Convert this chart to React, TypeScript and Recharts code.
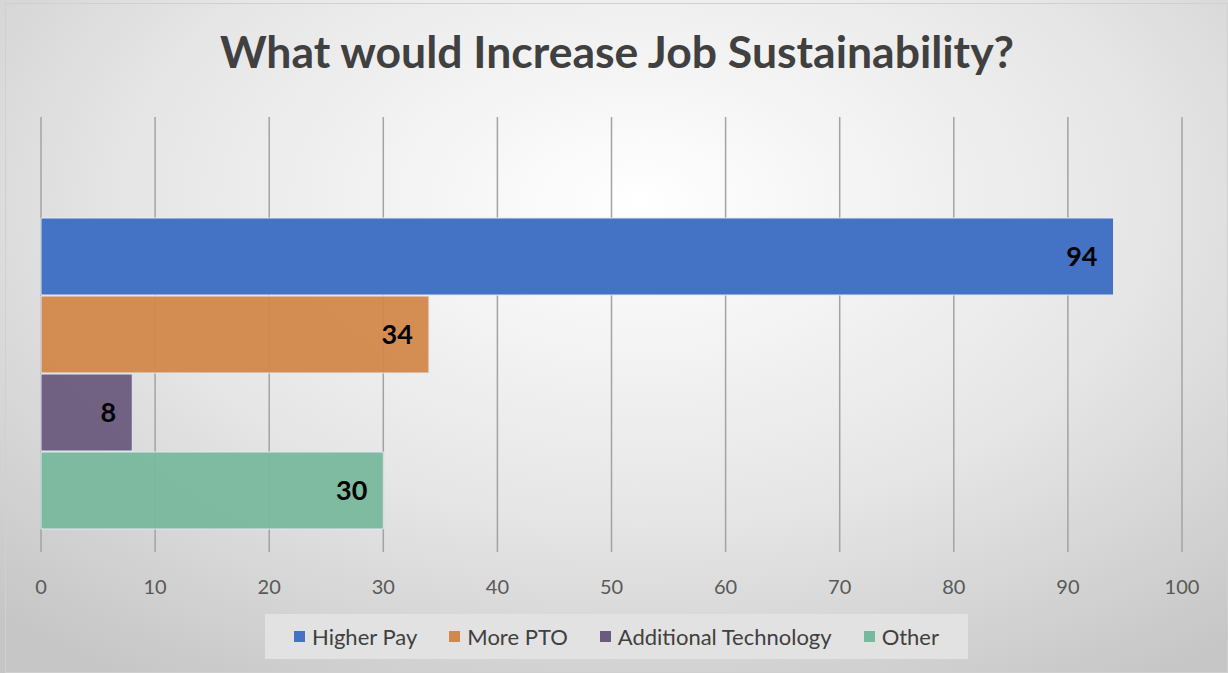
import { Bar, BarChart, CartesianGrid, LabelList, XAxis, YAxis } from "recharts";

const seriesNames = ["Higher Pay", "More PTO", "Additional Technology", "Other"];
const seriesKeys = ["higherPay", "morePto", "additionalTech", "other"];
const seriesValues = [94, 34, 8, 30];
const seriesColors = ["#4472c4", "#d2884a", "#6a5b7e", "#78b89c"];
const xTicks = [0, 10, 20, 30, 40, 50, 60, 70, 80, 90, 100];

const row: Record<string, number | string> = { name: "" };
seriesKeys.forEach((k, i) => {
  row[k] = seriesValues[i];
});
const data = [row];

const font = "Lato, 'Liberation Sans', sans-serif";

export default function App() {
  return (
    <div
      style={{
        position: "absolute",
        left: 0,
        top: 0,
        width: 1228,
        height: 673,
        background: "radial-gradient(ellipse 75% 85% at 52% 30%, #ffffff 0%, #e6e6e6 55%, #c6c6c6 100%)",
        fontFamily: font,
        overflow: "hidden",
      }}
    >
      <div
        style={{
          position: "absolute",
          left: 5,
          top: 3,
          right: 0,
          bottom: 0,
          border: "1px solid #d0d0d0",
          boxSizing: "border-box",
        }}
      />
      <div
        style={{
          position: "absolute",
          left: 0,
          width: 1234,
          top: 21,
          textAlign: "center",
          fontSize: 44.5,
          fontWeight: 700,
          color: "#404040",
          lineHeight: "60px",
        }}
      >
        What would Increase Job Sustainability?
      </div>
      <div style={{ position: "absolute", left: 0, top: 0 }}>
        <BarChart
          width={1228}
          height={673}
          data={data}
          layout="vertical"
          margin={{ top: 117, right: 46, bottom: 91, left: 41 }}
          barCategoryGap={0}
          barGap={1}
        >
          <CartesianGrid horizontal={false} stroke="#a3a3a3" strokeWidth={1.5} />
          <XAxis
            type="number"
            domain={[0, 100]}
            ticks={xTicks}
            axisLine={false}
            tickLine={false}
            tickMargin={22}
            height={30}
            tick={{ fill: "#595959", fontSize: 20, fontFamily: font }}
          />
          <YAxis type="category" dataKey="name" hide padding={{ top: 101, bottom: 25 }} />
          {seriesKeys.map((k, i) => (
            <Bar
              key={k}
              dataKey={k}
              name={seriesNames[i]}
              fill={seriesColors[i]}
              fillOpacity={i === 0 ? 1 : 0.95}
              stroke="#e2e8f0"
              strokeWidth={1}
              isAnimationActive={false}
            >
              <LabelList
                dataKey={k}
                position="insideRight"
                offset={16}
                fill="#000000"
                fontSize={27}
                fontWeight={700}
                fontFamily={font}
              />
            </Bar>
          ))}
        </BarChart>
      </div>
      <div
        style={{
          position: "absolute",
          left: 265,
          top: 614,
          width: 703,
          height: 45,
          background: "#e2e2e2",
          display: "flex",
          alignItems: "center",
          justifyContent: "center",
          gap: 32,
          fontSize: 22,
          color: "#404040",
        }}
      >
        {seriesNames.map((n, i) => (
          <div key={n} style={{ display: "flex", alignItems: "center" }}>
            <span
              style={{
                display: "inline-block",
                width: 11,
                height: 11,
                background: seriesColors[i],
                marginRight: 7,
              }}
            />
            {n}
          </div>
        ))}
      </div>
    </div>
  );
}
